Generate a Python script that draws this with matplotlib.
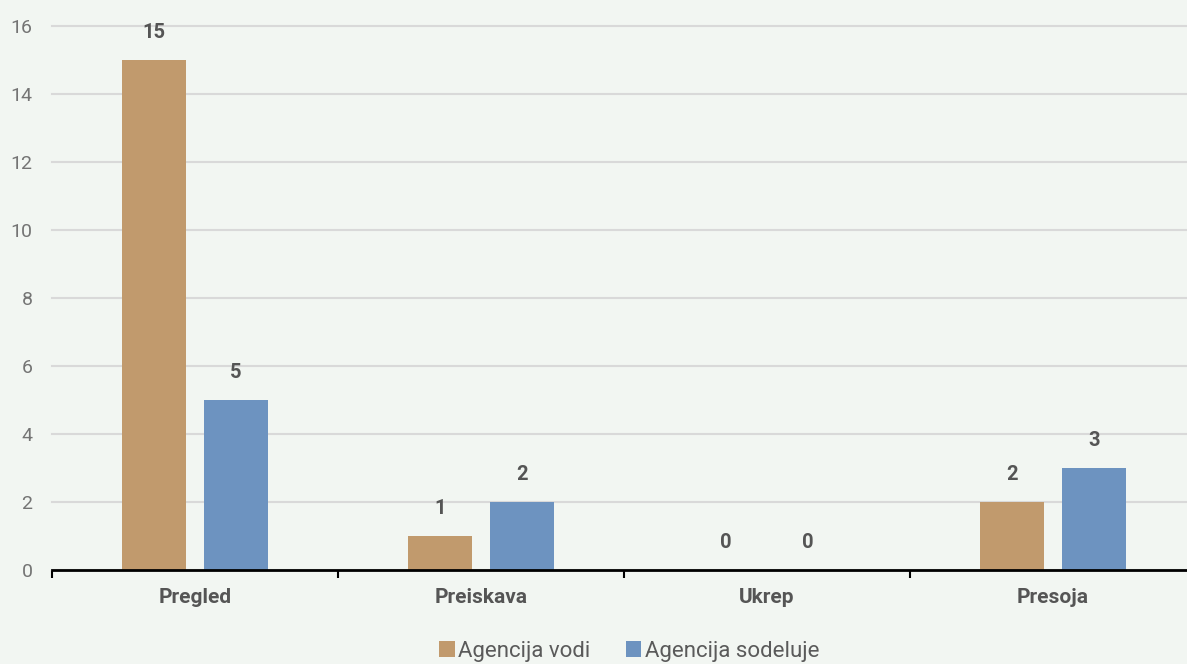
import matplotlib.pyplot as plt
import numpy as np

# Data
categories = ['Pregled', 'Preiskava', 'Ukrep', 'Presoja']
vodi = [15, 1, 0, 2]
sodeluje = [5, 2, 0, 3]
series_names = ['Agencija vodi', 'Agencija sodeluje']
yticks = [0, 2, 4, 6, 8, 10, 12, 14, 16]

bg = '#f2f6f2'
c_vodi = '#c19a6d'
c_sod = '#6d93c0'
txt = '#555555'

plt.rcParams['font.family'] = ['Roboto', 'DejaVu Sans']

fig = plt.figure(figsize=(11.87, 6.64), dpi=100, facecolor=bg)
ax = fig.add_axes([52 / 1187, 94 / 664, 1144 / 1187, 544 / 664], facecolor=bg)

x = np.arange(len(categories))
w = 0.224
off = 0.143
b1 = ax.bar(x - off, vodi, w, color=c_vodi, label=series_names[0], zorder=3)
b2 = ax.bar(x + off, sodeluje, w, color=c_sod, label=series_names[1], zorder=3)

for bars, vals in ((b1, vodi), (b2, sodeluje)):
    for rect, v in zip(bars, vals):
        ax.annotate(str(v), (rect.get_x() + rect.get_width() / 2, v),
                    xytext=(0, 20), textcoords='offset points',
                    ha='center', va='center', fontsize=14.5, fontweight='bold',
                    color=txt)

ax.set_xlim(-0.5, len(categories) - 0.5)
ax.set_ylim(0, 16)
ax.set_yticks(yticks)
ax.set_yticklabels([str(t) for t in yticks], fontsize=14, color='#747474')
ax.tick_params(axis='y', length=0, pad=14)
ax.yaxis.grid(True, color='#d9d9d9', linewidth=1.5, zorder=0)
for gl in ax.get_ygridlines():
    gl.set_clip_on(False)

ax.set_xticks(np.arange(len(categories) + 1) - 0.5)
ax.set_xticklabels([])
ax.set_xticks(x, minor=True)
ax.set_xticklabels(categories, minor=True, fontsize=15, fontweight='bold',
                   color=txt)
ax.tick_params(axis='x', which='major', length=6, width=1.5, color='black',
               direction='out')
ax.tick_params(axis='x', which='minor', length=0, pad=13)

for s in ['top', 'right', 'left']:
    ax.spines[s].set_visible(False)
ax.spines['bottom'].set_linewidth(2)
ax.spines['bottom'].set_color('black')
ax.spines['bottom'].set_zorder(4)

leg = fig.legend(loc='center', bbox_to_anchor=(629 / 1187, 13 / 664), ncol=2,
                 frameon=False, fontsize=16, handlelength=0.7,
                 handleheight=0.7, handletextpad=0.15, columnspacing=1.6,
                 labelcolor='#5a5a5a')

fig.savefig('out.png', dpi=100, facecolor=bg)
